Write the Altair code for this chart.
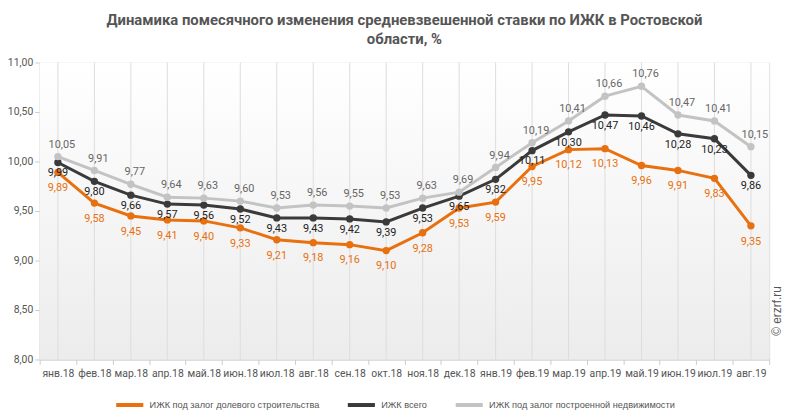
import altair as alt
import pandas as pd

months = ["янв.18", "фев.18", "мар.18", "апр.18", "май.18", "июн.18", "июл.18",
          "авг.18", "сен.18", "окт.18", "ноя.18", "дек.18", "янв.19", "фев.19",
          "мар.19", "апр.19", "май.19", "июн.19", "июл.19", "авг.19"]

s_dolevoe = [9.89, 9.58, 9.45, 9.41, 9.40, 9.33, 9.21, 9.18, 9.16, 9.10,
             9.28, 9.53, 9.59, 9.95, 10.12, 10.13, 9.96, 9.91, 9.83, 9.35]
s_vsego = [9.99, 9.80, 9.66, 9.57, 9.56, 9.52, 9.43, 9.43, 9.42, 9.39,
           9.53, 9.65, 9.82, 10.11, 10.30, 10.47, 10.46, 10.28, 10.23, 9.86]
s_postr = [10.05, 9.91, 9.77, 9.64, 9.63, 9.60, 9.53, 9.56, 9.55, 9.53,
           9.63, 9.69, 9.94, 10.19, 10.41, 10.66, 10.76, 10.47, 10.41, 10.15]

series_names = ["ИЖК под залог долевого строительства", "ИЖК всего",
                "ИЖК под залог построенной недвижимости"]
y_ticks = [8.0, 8.5, 9.0, 9.5, 10.0, 10.5, 11.0]

colors = ["#e8700e", "#3a3a3a", "#c3c3c3"]
label_colors = ["#e8700e", "#222222", "#666666"]
label_dy = [16, 11, -12]
label_dx = [0, 0, 4]

rows = []
for name, vals in zip(series_names, [s_dolevoe, s_vsego, s_postr]):
    for m, v in zip(months, vals):
        rows.append({"month": m, "value": v, "series": name})
df = pd.DataFrame(rows)
df_months = pd.DataFrame({"month": months})

W, H = 737, 300
fmt = "replace(format(datum.value, '.2f'), '.', ',')"

x_enc = alt.X("month:N", sort=months,
              scale=alt.Scale(type="band", paddingInner=0, paddingOuter=0),
              axis=alt.Axis(title=None, labelAngle=0, tickBand="extent", grid=False,
                            domainColor="#cccccc", tickColor="#cccccc", tickSize=5,
                            labelColor="#555555", labelFontSize=10.5, labelPadding=4))
y_enc = alt.Y("value:Q", scale=alt.Scale(domain=[8, 11], nice=False, zero=False),
              axis=alt.Axis(title=None, values=y_ticks, labelExpr=fmt, grid=False,
                            domainColor="#cccccc", tickColor="#cccccc", tickSize=5,
                            labelColor="#555555", labelFontSize=10.5, labelPadding=2))

bg = alt.Chart(pd.DataFrame({"a": [0]})).mark_rect(
    color=alt.LinearGradient(gradient="linear",
                             stops=[alt.GradientStop(offset=0, color="#ffffff"),
                                    alt.GradientStop(offset=1, color="#ececec")],
                             x1=0, x2=0, y1=0, y2=1)
).encode(x=alt.value(0), x2=alt.value(W), y=alt.value(0), y2=alt.value(H))

grid = alt.Chart(df_months).mark_rule(color="#dddddd", strokeWidth=1).encode(x=x_enc)

color_enc = alt.Color("series:N",
                      scale=alt.Scale(domain=series_names, range=colors),
                      legend=alt.Legend(title=None, orient="none", direction="horizontal",
                                        legendX=75, legendY=330,
                                        symbolType="stroke", symbolStrokeWidth=4,
                                        symbolSize=750, labelFontSize=9.3,
                                        labelColor="#555555", columnPadding=20,
                                        labelLimit=0, labelFont="Liberation Sans"))

lines = alt.Chart(df).mark_line(strokeWidth=3).encode(x=x_enc, y=y_enc, color=color_enc)
points = alt.Chart(df).mark_circle(size=55, opacity=1).encode(
    x=x_enc, y=y_enc,
    color=alt.Color("series:N", scale=alt.Scale(domain=series_names, range=colors), legend=None))

texts = []
for name, c, dy, dx in zip(series_names, label_colors, label_dy, label_dx):
    t = alt.Chart(df).transform_filter(alt.datum.series == name).transform_calculate(
        label="replace(format(datum.value, '.2f'), '.', ',')"
    ).mark_text(color=c, dy=dy, dx=dx, fontSize=11).encode(x=x_enc, y=y_enc, text="label:N")
    texts.append(t)

wm = alt.Chart(pd.DataFrame({"t": ["© erzrf.ru"]})).mark_text(
    angle=270, fontSize=12, color="#555555", font="Liberation Sans", baseline="middle"
).encode(x=alt.value(745), y=alt.value(251), text="t:N")

chart = alt.layer(bg, grid, lines, points, *texts, wm).properties(
    width=W, height=H,
    title=alt.Title(["Динамика помесячного изменения средневзвешенной ставки по ИЖК в Ростовской",
                     "области, %"],
                    fontSize=15, fontWeight="bold", color="#555555", font="Roboto",
                    anchor="middle", offset=11, lineHeight=19),
    autosize=alt.AutoSizeParams(type="none"),
    padding={"left": 32, "top": 53, "right": 16, "bottom": 54},
).configure(font="Roboto").configure_view(stroke="#dddddd")

chart.save("out.html", embed_options={"renderer": "svg", "actions": False})
